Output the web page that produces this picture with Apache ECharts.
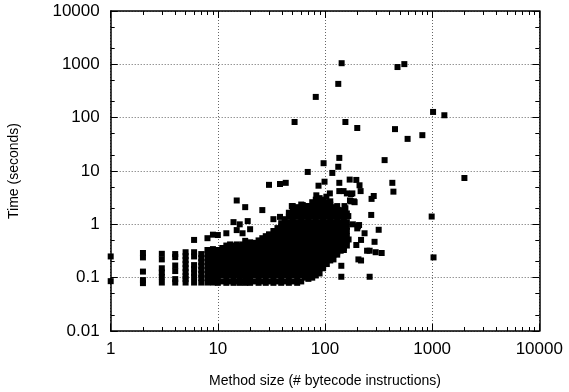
<!DOCTYPE html>
<html>
<head>
<meta charset="utf-8">
<script src="https://cdn.jsdelivr.net/npm/echarts@6/dist/echarts.min.js"></script>
<style>
  html, body { margin: 0; padding: 0; background: #fff; }
  #chart { width: 569px; height: 392px; }
</style>
</head>
<body>
<div id="chart"></div>
<script>
// tick labels
const xTickLabels = ['1', '10', '100', '1000', '10000'];
const yTickLabels = ['0.01', '0.1', '1', '10', '100', '1000', '10000'];

// methods of 1..9 instructions (x is discrete)
const smallSizeColumns = [
    [1, [0.25, 0.086]],
    [2, [0.29, 0.24, 0.13, 0.09, 0.079]],
    [3, [0.28, 0.22, 0.15, 0.125, 0.103, 0.081]],
    [4, [0.277, 0.243, 0.169, 0.133, 0.094, 0.081]],
    [5, [0.3, 0.254, 0.214, 0.18, 0.151, 0.127, 0.107, 0.094, 0.081]],
    [6, [0.51, 0.3, 0.25, 0.172, 0.145, 0.122, 0.103, 0.081]],
    [7, [0.277, 0.233, 0.196, 0.165, 0.139, 0.117, 0.098, 0.081]],
    [8, [0.55, 0.33, 0.277, 0.233, 0.196, 0.165, 0.139, 0.117, 0.098, 0.081]],
    [9, [0.64, 0.343, 0.288, 0.243, 0.205, 0.172, 0.145, 0.122, 0.103, 0.081]],
];

// the dense body of the cloud, 10..160 instructions
const clusterColumns = [
    [10, [0.08, 0.1, 0.12, 0.15, 0.18, 0.22, 0.27, 0.33]],
    [11, [0.085, 0.11, 0.135, 0.165, 0.2, 0.245, 0.3, 0.36]],
    [12, [0.08, 0.1, 0.12, 0.15, 0.18, 0.22, 0.27, 0.33, 0.4]],
    [13, [0.085, 0.11, 0.135, 0.165, 0.2, 0.245, 0.3, 0.36, 0.42]],
    [14, [0.08, 0.1, 0.12, 0.15, 0.18, 0.22, 0.27, 0.33, 0.4]],
    [15, [0.085, 0.11, 0.135, 0.165, 0.2, 0.245, 0.3, 0.36, 0.42]],
    [16, [0.08, 0.1, 0.12, 0.15, 0.18, 0.22, 0.27, 0.33, 0.4]],
    [17, [0.085, 0.11, 0.135, 0.165, 0.2, 0.245, 0.3, 0.36, 0.42]],
    [18, [0.08, 0.1, 0.12, 0.15, 0.18, 0.22, 0.27, 0.33, 0.4]],
    [19, [0.085, 0.11, 0.135, 0.165, 0.2, 0.245, 0.3, 0.36, 0.43]],
    [20, [0.08, 0.1, 0.12, 0.15, 0.18, 0.22, 0.27, 0.33, 0.4, 0.46]],
    [22, [0.085, 0.11, 0.135, 0.165, 0.2, 0.245, 0.3, 0.36, 0.45]],
    [24, [0.08, 0.1, 0.12, 0.15, 0.18, 0.22, 0.27, 0.33, 0.4, 0.5]],
    [26, [0.085, 0.11, 0.135, 0.165, 0.2, 0.245, 0.3, 0.36, 0.45, 0.55]],
    [28, [0.08, 0.1, 0.12, 0.15, 0.18, 0.22, 0.27, 0.33, 0.4, 0.5, 0.6]],
    [30, [0.085, 0.11, 0.135, 0.165, 0.2, 0.245, 0.3, 0.36, 0.45, 0.55, 0.65]],
    [33, [0.08, 0.1, 0.12, 0.15, 0.18, 0.22, 0.27, 0.33, 0.4, 0.5, 0.6, 0.75]],
    [36, [0.085, 0.11, 0.135, 0.165, 0.2, 0.245, 0.3, 0.36, 0.45, 0.55, 0.68, 0.85]],
    [39, [0.08, 0.1, 0.12, 0.15, 0.18, 0.22, 0.27, 0.33, 0.4, 0.5, 0.6, 0.75, 0.9, 1.05]],
    [42, [0.085, 0.11, 0.135, 0.165, 0.2, 0.245, 0.3, 0.36, 0.45, 0.55, 0.68, 0.82, 1.0, 1.25]],
    [46, [0.08, 0.1, 0.12, 0.15, 0.18, 0.22, 0.27, 0.33, 0.4, 0.5, 0.6, 0.75, 0.9, 1.1, 1.4, 1.65]],
    [50, [0.085, 0.11, 0.135, 0.165, 0.2, 0.245, 0.3, 0.36, 0.45, 0.55, 0.68, 0.82, 1.0, 1.25, 1.55, 1.9, 2.2]],
    [55, [0.08, 0.1, 0.12, 0.15, 0.18, 0.22, 0.27, 0.33, 0.4, 0.5, 0.6, 0.75, 0.9, 1.1, 1.4, 1.7, 2.1]],
    [60, [0.085, 0.11, 0.135, 0.165, 0.2, 0.245, 0.3, 0.36, 0.45, 0.55, 0.68, 0.82, 1.0, 1.25, 1.55, 1.9, 2.35]],
    [65, [0.1, 0.12, 0.15, 0.18, 0.22, 0.27, 0.33, 0.4, 0.5, 0.6, 0.75, 0.9, 1.1, 1.4, 1.7, 2.1]],
    [70, [0.095, 0.11, 0.135, 0.165, 0.2, 0.245, 0.3, 0.36, 0.45, 0.55, 0.68, 0.82, 1.0, 1.25, 1.55, 1.9, 2.2]],
    [76, [0.1, 0.12, 0.15, 0.18, 0.22, 0.27, 0.33, 0.4, 0.5, 0.6, 0.75, 0.9, 1.1, 1.4, 1.7, 2.1, 2.6]],
    [82, [0.11, 0.135, 0.165, 0.2, 0.245, 0.3, 0.36, 0.45, 0.55, 0.68, 0.82, 1.0, 1.25, 1.55, 1.9, 2.35, 2.9]],
    [89, [0.12, 0.15, 0.18, 0.22, 0.27, 0.33, 0.4, 0.5, 0.6, 0.75, 0.9, 1.1, 1.4, 1.7, 2.1, 2.6, 3.1]],
    [96, [0.15, 0.165, 0.2, 0.245, 0.3, 0.36, 0.45, 0.55, 0.68, 0.82, 1.0, 1.25, 1.55, 1.9, 2.35, 2.9]],
    [104, [0.18, 0.22, 0.27, 0.33, 0.4, 0.5, 0.6, 0.75, 0.9, 1.1, 1.4, 1.7, 2.1, 2.6]],
    [112, [0.21, 0.245, 0.3, 0.36, 0.45, 0.55, 0.68, 0.82, 1.0, 1.25, 1.55, 1.9, 2.35, 2.7]],
    [120, [0.22, 0.27, 0.33, 0.4, 0.5, 0.6, 0.75, 0.9, 1.1, 1.4, 1.7, 2.1]],
    [130, [0.27, 0.3, 0.36, 0.45, 0.55, 0.68, 0.82, 1.0, 1.25, 1.55, 1.9, 2.2]],
    [140, [0.32, 0.4, 0.5, 0.6, 0.75, 0.9, 1.1, 1.4, 1.7]],
    [150, [0.33, 0.36, 0.45, 0.55, 0.68, 0.82, 1.0, 1.25, 1.45]],
    [160, [0.4, 0.5, 0.6, 0.75, 0.9, 1.1]],
];

// scattered points around and above the cloud [size, seconds]
const scatteredPoints = [
    [143, 1050], [133, 430], [82, 245], [475, 890], [550, 1010],
    [52, 83], [155, 83], [200, 64], [450, 61], [590, 40], [810, 47],
    [1020, 128], [1300, 111], [136, 17.6], [360, 16], [97, 14], [133, 12],
    [69, 9.6], [117, 9.2], [30, 5.5], [38, 5.7], [43, 6.0], [87, 5.3],
    [99, 6.3], [136, 6.0], [196, 6.8], [210, 5.4], [425, 6.0], [435, 4.1],
    [2000, 7.4], [285, 3.4], [272, 3.0], [270, 1.5], [990, 1.4], [317, 0.79],
    [290, 0.47], [261, 0.32], [297, 0.3], [338, 0.29], [1030, 0.24],
    [261, 0.104], [142, 0.104], [142, 0.167], [205, 0.22], [217, 0.21],
    [247, 0.32], [234, 0.68], [217, 0.51], [166, 0.52], [203, 0.92],
    [182, 1.0], [159, 1.0], [149, 1.6], [155, 2.0], [165, 1.43], [170, 6.9],
    [215, 4.2], [136, 4.2], [149, 4.2], [175, 3.7], [189, 2.6], [171, 2.8],
    [26, 1.85], [83, 3.5], [103, 3.3], [111, 3.8], [49, 2.2], [62, 2.3],
    [67, 2.2], [92, 1.7], [77, 1.7], [103, 2.0], [132, 1.84], [160, 1.6],
    [15, 2.8], [18, 2.1], [14, 1.1], [16, 1.0], [19, 1.15], [15, 0.78],
    [17, 0.68], [20, 0.81], [10, 0.63], [12, 0.68], [33, 1.25], [38, 1.38],
    [18, 0.49], [200, 0.84], [196, 0.41], [160, 3.8], [180, 3.8], [175, 2.7],
    [186, 2.7], [152, 2.2], [144, 1.84], [208, 0.97],
];

const points = [];
smallSizeColumns.concat(clusterColumns).forEach(([x, ys]) => {
    ys.forEach((y) => points.push([x, y]));
});
scatteredPoints.forEach((p) => points.push(p));

// minor ticks (gnuplot style): 2..9 on x, 2 and 5 on y, drawn on value axes in log space
const xMinor = [];
for (let k = 0; k < 4; k++) {
    for (let m = 2; m <= 9; m++) xMinor.push(k + Math.log10(m));
}
const yMinor = [];
for (let k = -2; k < 4; k++) {
    yMinor.push(k + Math.log10(2), k + Math.log10(5));
}

const font = 'Liberation Sans, Arial, Helvetica, sans-serif';
const black = '#000';

const majorTick = { show: true, inside: true, length: 7, lineStyle: { color: black, width: 1 } };
const minorTick = (vals) => ({
    show: true, inside: true, length: 4, customValues: vals, lineStyle: { color: black, width: 1 },
});
const gridDots = { show: true, lineStyle: { color: '#666', width: 1, type: [1, 2] } };
const border = { show: true, onZero: false, lineStyle: { color: black, width: 1.5 } };
const noLine = { show: false, onZero: false };

const chart = echarts.init(document.getElementById('chart'));
chart.setOption({
    animation: false,
    textStyle: { fontFamily: font },
    grid: { left: 110.7, right: 29.7, top: 11, bottom: 61, containLabel: false, outerBoundsMode: 'none' },
    xAxis: [
        {
            type: 'log', logBase: 10, min: 1, max: 10000, position: 'bottom',
            axisLine: border,
            axisTick: majorTick,
            splitLine: gridDots,
            axisLabel: {
                color: black, fontSize: 17, margin: 10, fontFamily: font,
                formatter: (v) => xTickLabels[Math.round(Math.log10(v))],
            },
            name: 'Method size (# bytecode instructions)',
            nameLocation: 'middle', nameGap: 43,
            nameTextStyle: { color: black, fontSize: 14, fontFamily: font },
        },
        {
            type: 'log', logBase: 10, min: 1, max: 10000, position: 'top',
            axisLine: border, axisTick: majorTick,
            axisLabel: { show: false }, splitLine: { show: false },
        },
        {
            type: 'value', min: 0, max: 4, position: 'bottom',
            axisLine: noLine, axisTick: minorTick(xMinor),
            axisLabel: { show: false }, splitLine: { show: false },
        },
        {
            type: 'value', min: 0, max: 4, position: 'top',
            axisLine: noLine, axisTick: minorTick(xMinor),
            axisLabel: { show: false }, splitLine: { show: false },
        },
    ],
    yAxis: [
        {
            type: 'log', logBase: 10, min: 0.01, max: 10000, position: 'left',
            axisLine: border,
            axisTick: majorTick,
            splitLine: gridDots,
            axisLabel: {
                color: black, fontSize: 17, margin: 11, fontFamily: font,
                formatter: (v) => yTickLabels[Math.round(Math.log10(v)) + 2],
            },
            name: 'Time (seconds)',
            nameLocation: 'middle', nameGap: 90, nameRotate: 90,
            nameTextStyle: { color: black, fontSize: 14, fontFamily: font },
        },
        {
            type: 'log', logBase: 10, min: 0.01, max: 10000, position: 'right',
            axisLine: border, axisTick: majorTick,
            axisLabel: { show: false }, splitLine: { show: false },
        },
        {
            type: 'value', min: -2, max: 4, position: 'left',
            axisLine: noLine, axisTick: minorTick(yMinor),
            axisLabel: { show: false }, splitLine: { show: false },
        },
        {
            type: 'value', min: -2, max: 4, position: 'right',
            axisLine: noLine, axisTick: minorTick(yMinor),
            axisLabel: { show: false }, splitLine: { show: false },
        },
    ],
    series: [
        {
            type: 'scatter',
            xAxisIndex: 0,
            yAxisIndex: 0,
            symbol: 'rect',
            symbolSize: 6,
            itemStyle: { color: black, opacity: 1 },
            emphasis: { disabled: true },
            data: points,
        },
    ],
});
</script>
</body>
</html>
